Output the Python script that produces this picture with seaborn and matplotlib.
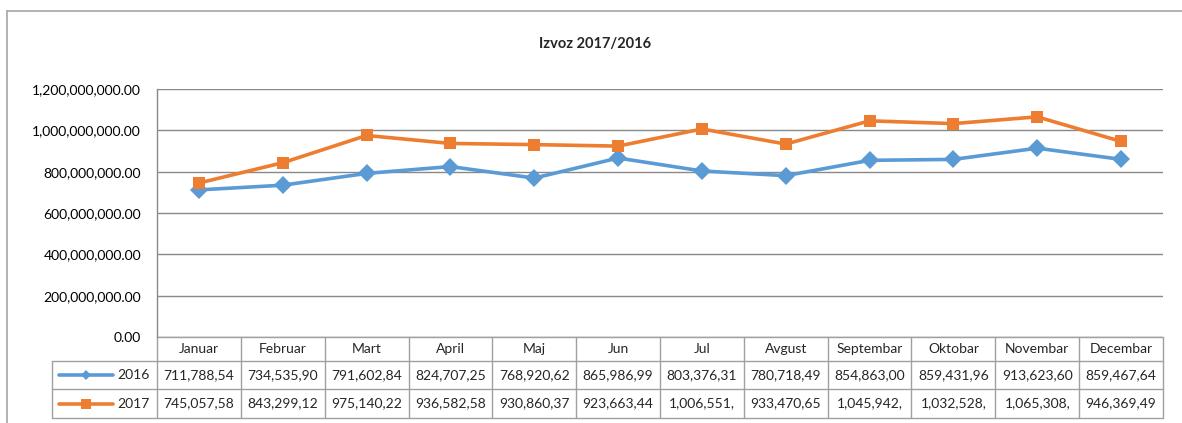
import matplotlib
matplotlib.use("Agg")
import matplotlib.pyplot as plt
import matplotlib.transforms as mtransforms
from matplotlib.lines import Line2D
from matplotlib.ticker import FuncFormatter
import seaborn as sns
import pandas as pd

months = ["Januar", "Februar", "Mart", "April", "Maj", "Jun", "Jul",
          "Avgust", "Septembar", "Oktobar", "Novembar", "Decembar"]
izvoz_2016 = [711788540, 734535900, 791602840, 824707250, 768920620, 865986990,
              803376310, 780718490, 854863000, 859431960, 913623600, 859467640]
izvoz_2017 = [745057580, 843299120, 975140220, 936582580, 930860370, 923663440,
              1006551000, 933470650, 1045942000, 1032528000, 1065308000, 946369490]
# text as it shows in the (clipped) data table cells
table_2016 = ["711,788,54", "734,535,90", "791,602,84", "824,707,25", "768,920,62", "865,986,99",
              "803,376,31", "780,718,49", "854,863,00", "859,431,96", "913,623,60", "859,467,64"]
table_2017 = ["745,057,58", "843,299,12", "975,140,22", "936,582,58", "930,860,37", "923,663,44",
              "1,006,551,", "933,470,65", "1,045,942,", "1,032,528,", "1,065,308,", "946,369,49"]
years = ["2016", "2017"]

blue = "#5B9BD5"
orange = "#ED7D31"
grid_c = "#898989"
table_c = "#A0A0A0"

sns.set_style("white")
plt.rcParams["font.family"] = ["Lato", "DejaVu Sans"]

df = pd.DataFrame({
    "mesec": list(range(12)) * 2,
    "vrednost": izvoz_2016 + izvoz_2017,
    "godina": [years[0]] * 12 + [years[1]] * 12,
})

W, H = 1182, 423
fig = plt.figure(figsize=(W / 100, H / 100), dpi=100)
ax = fig.add_axes([157 / W, (H - 337) / H, 1006 / W, 248 / H])

sns.lineplot(data=df, x="mesec", y="vrednost", hue="godina", style="godina",
             palette={"2016": blue, "2017": orange},
             markers={"2016": "D", "2017": "s"}, dashes=False,
             markersize=9, linewidth=2.6, markeredgewidth=0,
             legend=False, ax=ax, zorder=3)

ax.set_xlim(-0.5, 11.5)
ax.set_ylim(0, 1.2e9)
ax.set_yticks([0, 2e8, 4e8, 6e8, 8e8, 1e9, 1.2e9])
ax.yaxis.set_major_formatter(FuncFormatter(lambda v, p: f"{v:,.2f}"))
ax.tick_params(axis="y", labelsize=10, pad=11.5, length=0, colors="#000000")
ax.set_xticks([])
ax.set_xlabel("")
ax.set_ylabel("")
ax.grid(axis="y", color=grid_c, linewidth=1.0)
ax.set_axisbelow(True)
for s in ["top", "right", "bottom"]:
    ax.spines[s].set_visible(False)
ax.spines["left"].set_color(grid_c)
ax.spines["left"].set_linewidth(1.0)

fig.text(595 / W, 1 - 44 / H, "Izvoz 2017/2016", ha="center", va="center",
         fontsize=10.5, fontweight="bold")

# data table under the plot
tr = mtransforms.blended_transform_factory(ax.transData, ax.transAxes)
ta = ax.transAxes
px = 1 / 248.0
y_head = 0.0
y_r1 = -24 * px
y_r2 = -52 * px
y_bot = -81 * px
x_leg = -105 / 1006

line_kw = dict(color=table_c, linewidth=1.0, clip_on=False)
ax.plot([-0.5, 11.5], [y_head, y_head], transform=tr, **line_kw)
for yy in [y_r1, y_r2, y_bot]:
    ax.plot([x_leg, 1.0], [yy, yy], transform=ta, **line_kw)
for i in range(13):
    ax.plot([i - 0.5, i - 0.5], [y_head, y_bot], transform=tr, **line_kw)
ax.plot([x_leg, x_leg], [y_r1, y_bot], transform=ta, **line_kw)

for i, m in enumerate(months):
    ax.text(i, (y_head + y_r1) / 2, m, transform=tr, ha="center", va="center", fontsize=10)
    ax.text(i, (y_r1 + y_r2) / 2, table_2016[i], transform=tr, ha="center", va="center", fontsize=10)
    ax.text(i, (y_r2 + y_bot) / 2, table_2017[i], transform=tr, ha="center", va="center", fontsize=10)

rows = [(years[0], blue, "D", 5, (y_r1 + y_r2) / 2), (years[1], orange, "s", 7, (y_r2 + y_bot) / 2)]
for lab, col, mk, ms, yc in rows:
    ax.plot([-98 / 1006, -44 / 1006], [yc, yc], transform=ta, color=col,
            linewidth=2.6, clip_on=False, solid_capstyle="round")
    ax.plot([-71 / 1006], [yc], transform=ta, marker=mk, markersize=ms, color=col,
            markeredgewidth=0, clip_on=False)
    ax.text(-7 / 1006, yc, lab, transform=ta, ha="right", va="center", fontsize=10)

# outer chart border (partly cropped in the reference)
fig.add_artist(Line2D([7 / W, 7 / W], [0, 1 - 11 / H], color="#A6A6A6", linewidth=1.2,
                      transform=fig.transFigure))
fig.add_artist(Line2D([7 / W, 1], [1 - 11 / H, 1 - 11 / H], color="#A6A6A6", linewidth=1.2,
                      transform=fig.transFigure))

fig.savefig("out.png", dpi=100)
